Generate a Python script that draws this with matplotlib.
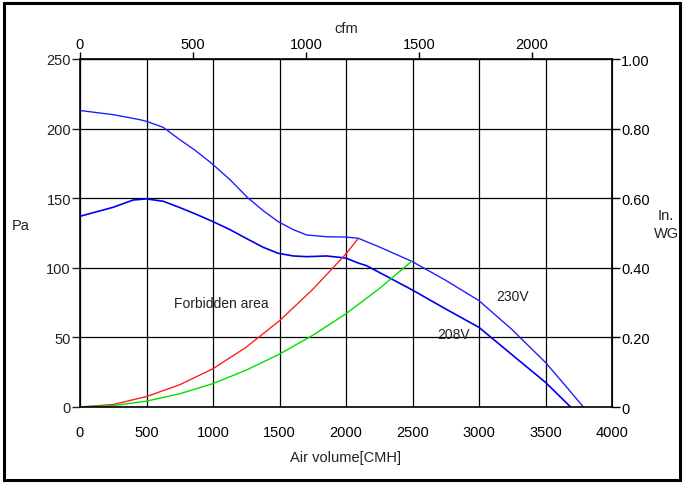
import matplotlib
matplotlib.use("Agg")
import matplotlib.pyplot as plt
from matplotlib.patches import Rectangle

plt.rcParams['font.family'] = ['Liberation Sans', 'DejaVu Sans']
plt.rcParams['font.size'] = 10.5

# fan curves: air volume [CMH] vs static pressure [Pa]

q_230 = [0, 250, 451, 500, 626, 744, 870, 995, 1128, 1258, 1378, 1491, 1604, 1704,
         1855, 1998, 2093, 2250, 2494, 2750, 3000, 3250, 3308, 3500, 3650, 3785]
p_230 = [213, 210, 206.4, 205.2, 200.9, 192.5, 184.1, 174.6, 163.3, 150.6, 141, 133.1, 127.4, 123.6,
         122.3, 122.1, 121.2, 115, 104.7, 91, 76.4, 55.5, 50, 32, 15.3, 0]

q_208 = [0, 250, 400, 500, 626, 744, 870, 995, 1128, 1258, 1378, 1491, 1604, 1704,
         1855, 1998, 2093, 2155, 2250, 2500, 2750, 3000, 3250, 3500, 3689]
p_208 = [137, 143.5, 148.7, 149.5, 147.8, 143.5, 138.6, 133.4, 127.4, 120.7, 114.7, 110.4, 108.5, 108,
         108.5, 107, 103.4, 101.5, 96.7, 84, 70.4, 57.2, 37.4, 17.7, 0]

# system resistance curves
q_red = [0, 250, 500, 750, 1000, 1250, 1500, 1750, 2000, 2093]
p_red = [0, 1.8, 7.5, 16, 27.5, 43, 62, 84.5, 110, 121.2]

q_green = [0, 250, 500, 750, 1000, 1250, 1500, 1750, 2000, 2250, 2494]
p_green = [0, 1, 4.2, 9.5, 16.8, 26.5, 38, 51.5, 67, 85, 104.7]

cmh_ticks = [0, 500, 1000, 1500, 2000, 2500, 3000, 3500, 4000]
pa_ticks = [0, 50, 100, 150, 200, 250]
cfm_ticks = [0, 500, 1000, 1500, 2000]
wg_ticks = [0, 0.2, 0.4, 0.6, 0.8, 1.0]
wg_labels = ['0', '0.20', '0.40', '0.60', '0.80', '1.00']

CMH_PER_CFM = 1.699
PA_PER_INWG = 250.0

W, H = 684, 485
fig = plt.figure(figsize=(W / 100, H / 100), dpi=100)

# outer frame
fig.patches.append(Rectangle((4 / W, 4 / H), 676 / W, 477 / H, transform=fig.transFigure,
                             fill=False, edgecolor='black', linewidth=2.2))

ax = fig.add_axes([80 / W, (H - 408) / H, 532 / W, 348 / H])

ax.plot(q_230, p_230, color='#2020ff', lw=1.0)
ax.plot(q_208, p_208, color='#0000ee', lw=1.2)
ax.plot(q_red, p_red, color='#ff2020', lw=1.0)
ax.plot(q_green, p_green, color='#00e000', lw=1.0)

ax.set_xlim(0, 4000)
ax.set_ylim(0, 250)
ax.set_xticks(cmh_ticks)
ax.set_yticks(pa_ticks)
ax.grid(True, color='black', lw=0.9)
ax.set_axisbelow(True)
for s in ax.spines.values():
    s.set_linewidth(1.2)
ax.tick_params(axis='x', length=0, pad=13.3, colors='#222222')
ax.tick_params(axis='y', length=6, width=1, pad=0.5, colors='#222222')
ax.tick_params(axis='x', colors='black')

ax.set_xlabel('Air volume[CMH]', labelpad=7.5, color='#222222')

# top axis in cfm
top = ax.secondary_xaxis('top', functions=(lambda q: q / CMH_PER_CFM, lambda c: c * CMH_PER_CFM))
top.set_xticks(cfm_ticks)
top.tick_params(length=5, width=1, pad=1)
top.set_xlabel('cfm', labelpad=3, color='#222222')

# right axis in inch water gauge
right = ax.secondary_yaxis('right', functions=(lambda p: p / PA_PER_INWG, lambda w: w * PA_PER_INWG))
right.set_yticks(wg_ticks, wg_labels)
right.tick_params(length=6, width=1, pad=0.5)

fig.text(21 / W, 1 - 226 / H, 'Pa', ha='center', va='center', color='#222222')
fig.text(666 / W, 1 - 225 / H, 'In.\nWG', ha='center', va='center', color='#222222',
         linespacing=1.3)

ax.text(1064, 74.7, 'Forbidden area', ha='center', va='center', fontsize=10, color='#222222')
ax.text(3256, 79.7, '230V', ha='center', va='center', fontsize=10, color='#222222')
ax.text(2805, 52.4, '208V', ha='center', va='center', fontsize=10, color='#222222')

fig.savefig('out.png', dpi=100)
